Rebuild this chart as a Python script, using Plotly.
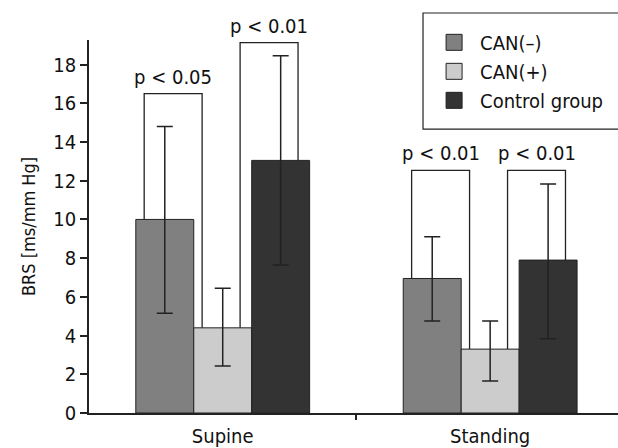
import plotly.graph_objects as go

# ---- data ----
categories = ["Supine", "Standing"]
series_names = ["CAN(–)", "CAN(+)", "Control group"]
can_minus = [10.0, 6.95]
can_minus_err_plus = [4.8, 2.15]
can_minus_err_minus = [4.85, 2.2]
can_plus = [4.4, 3.3]
can_plus_err_plus = [2.05, 1.45]
can_plus_err_minus = [1.97, 1.65]
control = [13.05, 7.9]
control_err_plus = [5.4, 3.93]
control_err_minus = [5.4, 4.07]

# significance brackets: category index, left bar series, right bar series, top value, label
br_cat = [0, 0, 1, 1]
br_left = [0, 1, 0, 1]
br_right = [1, 2, 1, 2]
br_top = [16.5, 19.13, 12.53, 12.53]
br_label = ["p &lt; 0.05", "p &lt; 0.01", "p &lt; 0.01", "p &lt; 0.01"]

# ---- style ----
colors = ["#808080", "#cccccc", "#333333"]
FONT = "DejaVu Sans Condensed, Liberation Sans Narrow, sans-serif"
LEG_SHIFT = {0: -0.077, 1: 0.065}   # bracket legs shift from bar centres (x units)

values = [can_minus, can_plus, control]
eplus = [can_minus_err_plus, can_plus_err_plus, control_err_plus]
eminus = [can_minus_err_minus, can_plus_err_minus, control_err_minus]

x_num = list(range(len(categories)))
bargap = 0.35
bar_w = (1 - bargap) / 3.0

fig = go.Figure()
for i in range(3):
    fig.add_trace(go.Bar(
        x=x_num, y=values[i], name=series_names[i],
        marker=dict(color=colors[i], line=dict(color="#222222", width=1)),
        error_y=dict(type="data", symmetric=False, array=eplus[i], arrayminus=eminus[i],
                     color="#222222", thickness=1.5, width=8),
        showlegend=False, hoverinfo="skip",
    ))
# legend entries
for i in range(3):
    fig.add_trace(go.Scatter(
        x=[None], y=[None], mode="markers", name=series_names[i],
        marker=dict(symbol="square", size=20, color=colors[i], line=dict(color="#222222", width=1)),
        showlegend=True,
    ))

shapes = []
annotations = []
for c, l, r, top, lab in zip(br_cat, br_left, br_right, br_top, br_label):
    shift = LEG_SHIFT[l]
    xl = c + (l - 1) * bar_w + shift
    xr = c + (r - 1) * bar_w + shift
    yl = values[l][c]
    yr = values[r][c]
    shapes.append(dict(type="path", xref="x", yref="y",
                       path=f"M {xl},{yl} L {xl},{top} L {xr},{top} L {xr},{yr}",
                       line=dict(color="#222222", width=1.3)))
    annotations.append(dict(x=(xl + xr) / 2, y=top, xref="x", yref="y", text=lab,
                            showarrow=False, yanchor="bottom", yshift=3,
                            font=dict(family=FONT, size=20, color="#111111")))

# legend frame (extends past the right edge as in the reference)
shapes.append(dict(type="rect", xref="paper", yref="paper", x0=0.6314, x1=1.03,
                   y0=0.7612, y1=1.0724, line=dict(color="#222222", width=1.2),
                   fillcolor="white", layer="below"))

fig.update_layout(
    width=618, height=448,
    margin=dict(l=89, r=0, t=40, b=35, autoexpand=False),
    paper_bgcolor="white", plot_bgcolor="rgba(0,0,0,0)",
    barmode="group", bargap=bargap, bargroupgap=0,
    font=dict(family=FONT, size=20, color="#111111"),
    shapes=shapes, annotations=annotations,
    legend=dict(x=0.641, y=1.046, xanchor="left", yanchor="top", itemwidth=42,
                borderwidth=0, bgcolor="rgba(0,0,0,0)",
                font=dict(family=FONT, size=20, color="#111111")),
    xaxis=dict(range=[-0.5, 1.478], tickmode="array", tickvals=x_num, ticktext=categories,
               ticks="", showline=True, linecolor="#222222", linewidth=1.5,
               showgrid=False, zeroline=False, automargin=False, ticklabelstandoff=4,
               minor=dict(tickmode="array", tickvals=[0.5], ticks="outside", ticklen=5,
                          tickcolor="#222222", tickwidth=1.5, showgrid=False)),
    yaxis=dict(range=[0, 19.27], dtick=2, tick0=0, ticks="outside", ticklen=7,
               tickcolor="#222222", tickwidth=1.5, ticklabelstandoff=0,
               showline=True, linecolor="#222222", linewidth=1.5,
               showgrid=False, zeroline=False, automargin=False,
               title=dict(text="BRS [ms/mm Hg]", font=dict(family=FONT, size=18), standoff=13)),
)

fig.write_html("out.html", config={"displayModeBar": False},
               post_script="document.body.style.margin='0';document.body.style.overflow='hidden';")
